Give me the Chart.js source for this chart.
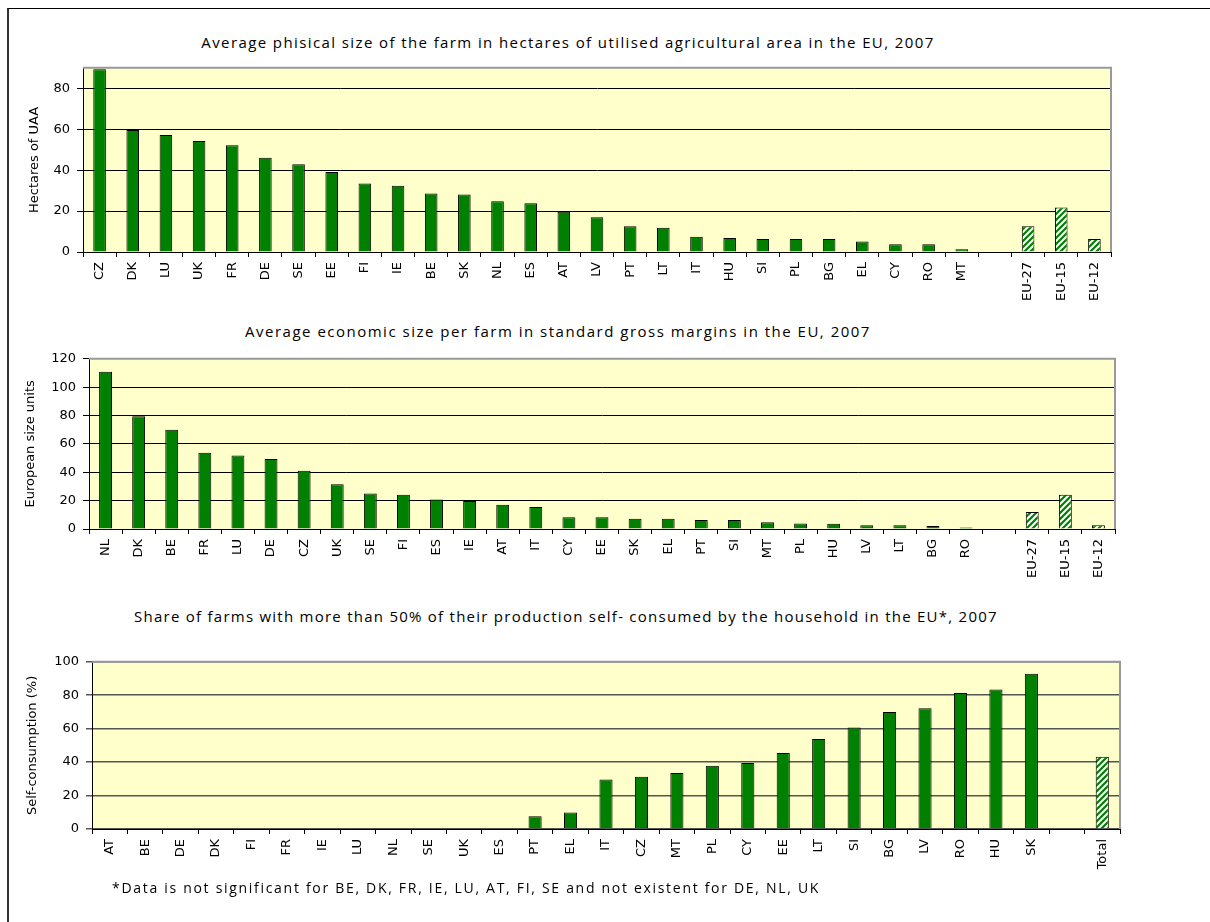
<!DOCTYPE html>
<html>
<head>
<meta charset="utf-8">
<script src="https://cdn.jsdelivr.net/npm/chart.js@4.4.1/dist/chart.umd.min.js"></script>
<style>
  body { margin: 0; background: #fff; width: 1210px; height: 922px; overflow: hidden; position: relative; }
  .frame { position: absolute; left: 7px; top: 8px; width: 1300px; height: 1000px; border-top: 1px solid #000; border-left: 2px solid #333; }
  .box { position: absolute; }
  .title { position: absolute; width: 1000px; text-align: center; font-family: "Open Sans"; font-size: 15px; line-height: 18px; letter-spacing: 1.4px; color: #000; white-space: nowrap; }
  .note { position: absolute; left: 112px; top: 879px; font-family: "Open Sans"; font-size: 14px; line-height: 18px; letter-spacing: 1.7px; color: #000; white-space: nowrap; }
</style>
</head>
<body>
<div class="frame"></div>

<div class="title" style="left:68px; top:33px;">Average phisical size of the farm in hectares of utilised agricultural area in the EU, 2007</div>
<div class="box" style="left:8px; top:53px; width:1113px; height:259px;"><canvas id="uaaChart"></canvas></div>

<div class="title" style="left:58px; top:322px; letter-spacing:1.5px;">Average economic size per farm in standard gross margins in the EU, 2007</div>
<div class="box" style="left:8px; top:344px; width:1117px; height:245px;"><canvas id="esuChart"></canvas></div>

<div class="title" style="left:66px; top:607px; letter-spacing:1.25px;">Share of farms with more than 50% of their production self- consumed by the household in the EU*, 2007</div>
<div class="box" style="left:8px; top:647px; width:1122px; height:232px;"><canvas id="selfChart"></canvas></div>

<div class="note">*Data is not significant for BE, DK, FR, IE, LU, AT, FI, SE and not existent for DE, NL, UK</div>

<script>
Chart.defaults.font.family = "DejaVu Sans";
Chart.defaults.font.size = 13;
Chart.defaults.color = '#000';
Chart.defaults.animation = false;

// Data: physical size (hectares of UAA)
const uaaCountries = ['CZ', 'DK', 'LU', 'UK', 'FR', 'DE', 'SE', 'EE', 'FI', 'IE', 'BE', 'SK', 'NL', 'ES', 'AT', 'LV', 'PT', 'LT', 'IT', 'HU', 'SI', 'PL', 'BG', 'EL', 'CY', 'RO', 'MT']
const uaaValues = [89.3, 59.6, 57.2, 54.2, 52.1, 46.1, 42.9, 39.1, 33.5, 32.4, 28.6, 28.1, 24.8, 23.8, 19.7, 17.0, 12.6, 11.9, 7.5, 6.8, 6.4, 6.4, 6.4, 5.1, 3.8, 3.8, 1.4]
const uaaAggLabels = ['EU-27', 'EU-15', 'EU-12']
const uaaAggValues = [12.6, 21.8, 6.4]

// Data: economic size (European size units)
const esuCountries = ['NL', 'DK', 'BE', 'FR', 'LU', 'DE', 'CZ', 'UK', 'SE', 'FI', 'ES', 'IE', 'AT', 'IT', 'CY', 'EE', 'SK', 'EL', 'PT', 'SI', 'MT', 'PL', 'HU', 'LV', 'LT', 'BG', 'RO']
const esuValues = [110.9, 79.5, 69.9, 53.7, 51.9, 49.4, 41.1, 31.5, 25.1, 24.2, 20.8, 19.7, 17.1, 15.5, 8.2, 8.2, 7.3, 7.3, 6.4, 6.4, 4.8, 3.9, 3.7, 2.7, 2.7, 2.1, 1.1]
const esuAggLabels = ['EU-27', 'EU-15', 'EU-12']
const esuAggValues = [11.9, 24.2, 2.7]

// Data: self-consumption share (%)
const selfCountries = ['AT', 'BE', 'DE', 'DK', 'FI', 'FR', 'IE', 'LU', 'NL', 'SE', 'UK', 'ES', 'PT', 'EL', 'IT', 'CZ', 'MT', 'PL', 'CY', 'EE', 'LT', 'SI', 'BG', 'LV', 'RO', 'HU', 'SK']
const selfValues = [0, 0, 0, 0, 0, 0, 0, 0, 0, 0, 0, 0, 7.6, 9.9, 29.6, 31.3, 33.5, 37.9, 39.5, 45.5, 53.9, 60.7, 70.0, 72.2, 81.3, 83.5, 92.8]
const selfAggLabels = ['Total']
const selfAggValues = [43.2]

const GREEN = '#008000'

// striped fill for the EU aggregates
function makeHatch() {
    let c = document.createElement('canvas')
    c.width = 6
    c.height = 6
    let g = c.getContext('2d')
    g.fillStyle = GREEN
    g.fillRect(0, 0, 6, 6)
    g.strokeStyle = '#fff'
    g.lineWidth = 2
    g.beginPath()
    g.moveTo(-1, 7); g.lineTo(7, -1)
    g.moveTo(-4, 4); g.lineTo(4, -4)
    g.moveTo(2, 10); g.lineTo(10, 2)
    g.stroke()
    return document.createElement('canvas').getContext('2d').createPattern(c, 'repeat')
}
const hatch = makeHatch()

// yellow plot background + grey frame on top/right
const plotFrame = {
    id: 'plotFrame',
    beforeDraw(chart) {
        const {ctx, chartArea: a} = chart
        ctx.save()
        ctx.fillStyle = '#FFFFCC'
        ctx.fillRect(a.left, a.top, a.right - a.left, a.bottom - a.top)
        ctx.restore()
    },
    afterDatasetsDraw(chart) {
        const {ctx, chartArea: a} = chart
        ctx.save()
        ctx.strokeStyle = '#999'
        ctx.lineWidth = 2
        ctx.beginPath()
        ctx.moveTo(a.left, a.top)
        ctx.lineTo(a.right, a.top)
        ctx.lineTo(a.right, a.bottom)
        ctx.stroke()
        ctx.restore()
    }
}

function makeChart(id, countries, values, aggLabels, aggValues, opt) {
    let labels = countries.concat([''], aggLabels)
    let data = values.concat([null], aggValues)
    let fills = labels.map((l, i) => i > countries.length ? hatch : GREEN)

    return new Chart(document.getElementById(id), {
        type: 'bar',
        data: {
            labels: labels,
            datasets: [{
                data: data,
                backgroundColor: fills,
                borderColor: '#000',
                borderWidth: 1,
                categoryPercentage: 1,
                barPercentage: opt.bar
            }]
        },
        options: {
            responsive: true,
            maintainAspectRatio: false,
            layout: { padding: { top: 10, right: 10, bottom: 0, left: 0 } },
            plugins: { legend: { display: false }, tooltip: { enabled: false } },
            scales: {
                x: {
                    grid: { offset: true, drawOnChartArea: false, color: '#000', tickLength: 5 },
                    border: { color: '#000' },
                    ticks: { autoSkip: false, minRotation: 90, maxRotation: 90, padding: 5 },
                    afterFit: (s) => { s.height = opt.xh }
                },
                y: {
                    min: 0,
                    max: opt.max,
                    grid: { color: opt.gridColor, lineWidth: opt.gridWidth, tickLength: 6 },
                    border: { color: '#000' },
                    ticks: { stepSize: 20, padding: 7 },
                    afterBuildTicks: (s) => { s.ticks = s.ticks.filter(t => t.value % 20 === 0) },
                    title: { display: true, text: opt.yTitle, font: { size: 13 }, padding: { top: opt.tpad, bottom: 0 } },
                    afterFit: (s) => { s.width = opt.yw }
                }
            }
        },
        plugins: [plotFrame]
    })
}

makeChart('uaaChart', uaaCountries, uaaValues, uaaAggLabels, uaaAggValues,
    { bar: 0.38, max: 90, yTitle: 'Hectares of UAA', yw: 75, tpad: 19, xh: 60, gridColor: '#000', gridWidth: 1 })

makeChart('esuChart', esuCountries, esuValues, esuAggLabels, esuAggValues,
    { bar: 0.39, max: 120, yTitle: 'European size units', yw: 81, tpad: 15, xh: 60, gridColor: '#000', gridWidth: 1 })

makeChart('selfChart', selfCountries, selfValues, selfAggLabels, selfAggValues,
    { bar: 0.37, max: 100, yTitle: 'Self-consumption (%)', yw: 84, tpad: 17, xh: 50, gridColor: '#555', gridWidth: 1.5 })
</script>
</body>
</html>
